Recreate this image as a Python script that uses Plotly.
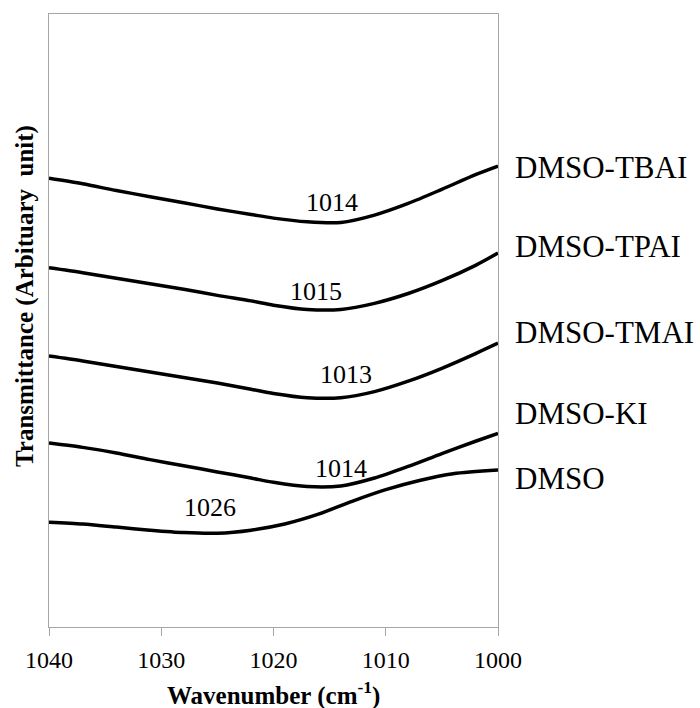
import plotly.graph_objects as go

# Wavenumber grid (cm-1) for the four salt solutions and for neat DMSO
wavenumber = [1040, 1037, 1034, 1031, 1028, 1025, 1022, 1020, 1017, 1014, 1011, 1008, 1005, 1002, 1000]
wavenumber_dmso = [1040, 1037, 1034, 1031, 1028, 1025, 1022, 1019, 1016, 1013, 1010, 1007, 1004, 1000]

# Offset transmittance traces (arbitrary units)
t_tbai = [73.2, 72.3, 71.2, 70.2, 69.2, 68.2, 67.3, 66.7, 66.1, 66.0, 67.2, 69.1, 71.4, 73.8, 75.2]
t_tpai = [58.6, 57.8, 56.9, 56.0, 55.1, 54.1, 53.2, 52.5, 51.8, 51.8, 52.8, 54.4, 56.5, 59.0, 61.0]
t_tmai = [44.2, 43.4, 42.5, 41.6, 40.7, 39.8, 38.8, 38.1, 37.4, 37.4, 38.4, 40.1, 42.2, 44.6, 46.3]
t_ki = [30.0, 29.3, 28.4, 27.3, 26.3, 25.3, 24.3, 23.6, 22.9, 23.0, 24.3, 26.2, 28.3, 30.3, 31.6]
t_dmso = [17.1, 16.8, 16.3, 15.8, 15.4, 15.3, 15.8, 16.8, 18.4, 20.5, 22.4, 23.9, 25.0, 25.6]

series_names = ["DMSO-TBAI", "DMSO-TPAI", "DMSO-TMAI", "DMSO-KI", "DMSO"]
series_x = [wavenumber, wavenumber, wavenumber, wavenumber, wavenumber_dmso]
series_y = [t_tbai, t_tpai, t_tmai, t_ki, t_dmso]
name_label_y = [75.0, 62.0, 48.1, 34.9, 24.3]

# Band minimum labels: text, wavenumber position, height
peak_text = ["1014", "1015", "1013", "1014", "1026"]
peak_x = [1014.8, 1016.2, 1013.5, 1014.0, 1025.7]
peak_y = [69.3, 54.7, 41.2, 25.8, 19.5]

tick_vals = [1040, 1030, 1020, 1010, 1000]

serif = "Liberation Serif, Times New Roman, serif"
frame = "#a6a6a6"

fig = go.Figure()
for name, xs, ys in zip(series_names, series_x, series_y):
    fig.add_trace(go.Scatter(
        x=xs, y=ys, mode="lines", name=name,
        line=dict(color="black", width=3.5, shape="spline", smoothing=0.8),
        showlegend=False, hoverinfo="skip",
    ))

annotations = []
for txt, px, py in zip(peak_text, peak_x, peak_y):
    annotations.append(dict(
        x=px, y=py, xref="x", yref="y", text=txt, showarrow=False,
        font=dict(family=serif, size=26, color="black"),
        xanchor="center", yanchor="middle",
    ))
for name, ly in zip(series_names, name_label_y):
    annotations.append(dict(
        x=1.033, y=ly, xref="paper", yref="y", text=name, showarrow=False,
        font=dict(family=serif, size=31, color="black"),
        xanchor="left", yanchor="middle",
    ))
annotations.append(dict(
    x=0.5, y=-0.109, xref="paper", yref="paper",
    text="<b>Wavenumber (cm<sup>-1</sup>)</b>", showarrow=False,
    font=dict(family=serif, size=25, color="black"),
    xanchor="center", yanchor="middle",
))
annotations.append(dict(
    x=-0.0535, y=0.54, xref="paper", yref="paper",
    text="<b>Transmittance (Arbituary\u00a0\u00a0unit)</b>", showarrow=False,
    textangle=-90,
    font=dict(family=serif, size=25, color="black"),
    xanchor="center", yanchor="middle",
))

fig.update_layout(
    width=700, height=708,
    margin=dict(l=49, r=202, t=14, b=81),
    paper_bgcolor="white", plot_bgcolor="white",
    xaxis=dict(
        range=[1040, 1000], tickvals=tick_vals, ticktext=[str(v) for v in tick_vals],
        showgrid=False, zeroline=False,
        showline=True, linecolor=frame, linewidth=1, mirror=True,
        ticks="outside", ticklen=8, tickcolor=frame, tickwidth=1,
        ticklabelstandoff=3,
        tickfont=dict(family=serif, size=24, color="black"),
    ),
    yaxis=dict(
        range=[0, 100], showgrid=False, zeroline=False,
        showline=True, linecolor=frame, linewidth=1, mirror=True,
        ticks="", showticklabels=False,
    ),
    annotations=annotations,
)

fig.write_html("out.html")
